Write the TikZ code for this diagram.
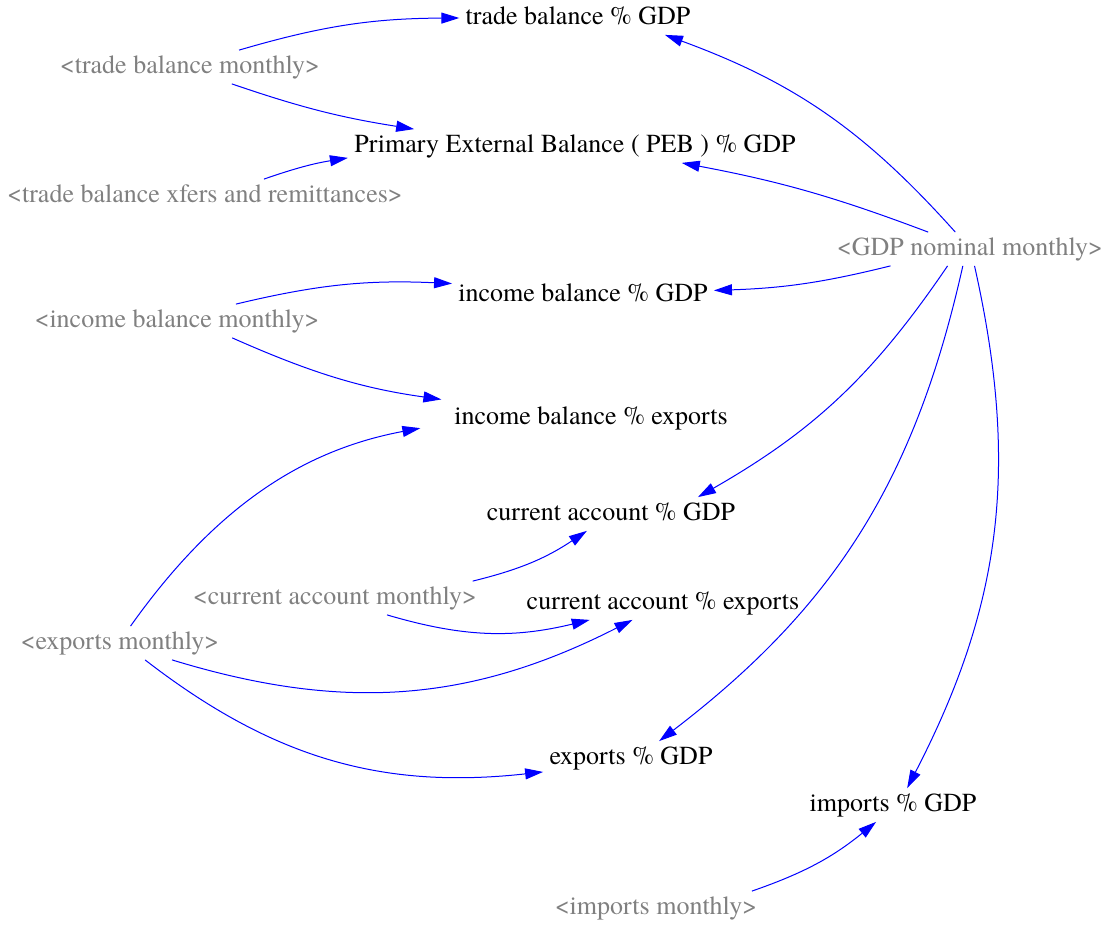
\documentclass[tikz,border=0pt]{standalone}
\usepackage{fontspec}
\setmainfont{TeX Gyre Termes}
\usetikzlibrary{arrows.meta}
\definecolor{shadowgray}{RGB}{128,128,128}
\begin{document}
\begin{tikzpicture}[x=0.5pt, y=0.5pt,
    var/.style={inner xsep=3pt, inner ysep=2pt, text height=9.5pt, text depth=3pt,
      font=\fontsize{13}{15}\selectfont},
    shadow/.style={var, text=shadowgray},
    link/.style={blue, line width=0.5pt, -{Triangle[length=9pt,width=5.5pt]}}]
  \useasboundingbox (0,0) rectangle (1105,-925);

  % Variaveis do modelo
  \node[var] (tbg) at (578,-18) {trade balance \% GDP};
  \node[var] (peb) at (575,-146) {Primary External Balance ( PEB ) \% GDP};
  \node[var] (ibg) at (583,-295) {income balance \% GDP};
  \node[var] (ibe) at (591,-418) {income balance \% exports};
  \node[var] (cag) at (611,-514) {current account \% GDP};
  \node[var] (cae) at (663,-603) {current account \% exports};
  \node[var] (exg) at (631,-758) {exports \% GDP};
  \node[var] (img) at (893,-805) {imports \% GDP};

  % Variaveis sombra
  \node[shadow] (tbm) at (190,-67) {<trade balance monthly>};
  \node[shadow] (tbx) at (205,-196) {<trade balance xfers and remittances>};
  \node[shadow] (gdp) at (970,-249) {<GDP nominal monthly>};
  \node[shadow] (ibm) at (177,-321) {<income balance monthly>};
  \node[shadow] (cam) at (335,-598) {<current account monthly>};
  \node[shadow] (exm) at (120,-643) {<exports monthly>};
  \node[shadow] (imm) at (656,-908) {<imports monthly>};

  % Ligacoes
  \draw[link] (tbm.19) to[bend left=8] (tbg.180);
  \draw[link] (tbm.-22) to[bend right=5] (peb.174);
  \draw[link] (tbx.16) to[bend left=5] (peb.183);
  \draw[link] (gdp.131) to[bend right=14] (tbg.-11);
  \draw[link] (gdp.158) to[bend right=5] (peb.-9);
  \draw[link] (gdp.192) to[bend left=6] (ibg.2);
  \draw[link] (ibm.16) to[bend left=8] (ibg.175);
  \draw[link, shorten >=6pt] (ibm.-17) to[bend right=8] (ibe.173);
  \draw[link, shorten >=14pt] (exm.58) to[bend left=22] (ibe.182);
  \draw[link] (gdp.217) to[bend left=13] (cag.11);
  \draw[link] (cam.7) to[bend right=10] (cag.215);
  \draw[link] (cam.-18) to[bend right=15] (cae.193);
  \draw[link] (exm.-18) to[bend right=22] (cae.209);
  \draw[link] (exm.-34) to[bend right=22] (exg.189);
  \draw[link] (gdp.247) to[bend left=20] (exg.31);
  \draw[link] (gdp.285) to[bend left=20] (img.50);
  \draw[link] (imm.10) to[bend right=10] (img.225);
\end{tikzpicture}
\end{document}
